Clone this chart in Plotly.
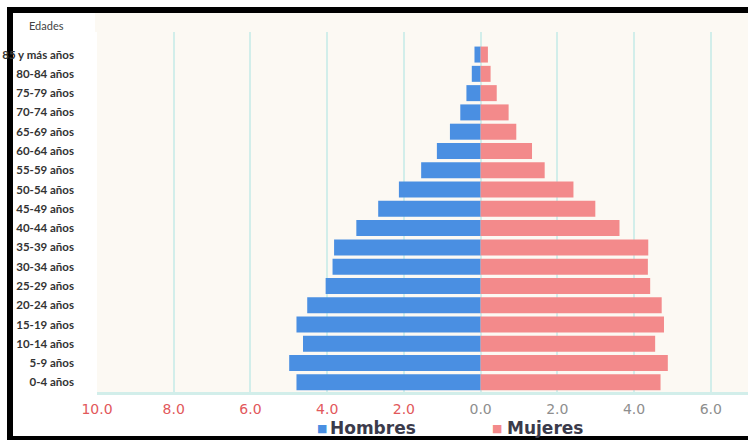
import plotly.graph_objects as go

# Age groups, youngest first (bottom of the pyramid)
edades = [
    "0-4 años", "5-9 años", "10-14 años", "15-19 años", "20-24 años",
    "25-29 años", "30-34 años", "35-39 años", "40-44 años", "45-49 años",
    "50-54 años", "55-59 años", "60-64 años", "65-69 años", "70-74 años",
    "75-79 años", "80-84 años", "85 y más años",
]

# Share of the population (%) per age group
hombres = [4.80, 4.99, 4.63, 4.80, 4.52, 4.04, 3.86, 3.82, 3.24, 2.67,
           2.13, 1.55, 1.14, 0.80, 0.53, 0.37, 0.23, 0.16]
mujeres = [4.69, 4.88, 4.55, 4.78, 4.72, 4.42, 4.36, 4.37, 3.62, 2.99,
           2.42, 1.67, 1.34, 0.93, 0.73, 0.42, 0.26, 0.19]

tick_vals = [-10, -8, -6, -4, -2, 0, 2, 4, 6]

AZUL = "#4a8fe2"
ROSA = "#f38a8b"
CREMA = "#fcf9f3"
REJILLA = "#d2eeea"
ROJO = "#e2585b"
GRIS = "#8e8e8e"

W, H = 748, 440
ML, MR, MT, MB = 97, 0, 32, 48
PW, PH = W - ML - MR, H - MT - MB


def px_x(p):
    return (p - ML) / PW


def px_y(p):
    return (H - MB - p) / PH


tick_text = []
for v in tick_vals:
    color = ROJO if v < 0 else GRIS
    tick_text.append(f"<span style='color:{color}'>{abs(v):.1f}</span>")

fig = go.Figure()
fig.add_trace(go.Bar(
    y=edades, x=[-v for v in hombres], name="Hombres", orientation="h",
    marker=dict(color=AZUL, line=dict(width=0)),
))
fig.add_trace(go.Bar(
    y=edades, x=mujeres, name="Mujeres", orientation="h",
    marker=dict(color=ROSA, line=dict(width=0)),
))

shapes = [
    # cream band continuing above the plotting area
    dict(type="rect", xref="paper", yref="paper", layer="below",
         x0=px_x(95), x1=1, y0=1, y1=px_y(13),
         fillcolor=CREMA, line=dict(width=0)),
    # frame: top, left and bottom edges
    dict(type="rect", xref="paper", yref="paper", layer="below",
         x0=px_x(7), x1=1, y0=px_y(13), y1=px_y(7),
         fillcolor="black", line=dict(width=0)),
    dict(type="rect", xref="paper", yref="paper", layer="below",
         x0=px_x(7), x1=px_x(13), y0=px_y(440), y1=px_y(7),
         fillcolor="black", line=dict(width=0)),
    dict(type="rect", xref="paper", yref="paper", layer="below",
         x0=px_x(7), x1=1, y0=px_y(440), y1=px_y(436),
         fillcolor="black", line=dict(width=0)),
]

annotations = [
    dict(text="Edades", xref="paper", yref="paper", x=px_x(46), y=px_y(25),
         xanchor="center", yanchor="middle", showarrow=False,
         font=dict(family="Lato", size=11, color="#444444")),
]

# legend entries
for (name, color, sq_x, txt_x) in [("Hombres", AZUL, 322, 328),
                                    ("Mujeres", ROSA, 497, 505)]:
    annotations.append(dict(
        text="■", xref="paper", yref="paper", x=px_x(sq_x), y=px_y(428),
        xanchor="center", yanchor="middle", showarrow=False,
        font=dict(family="DejaVu Sans", size=11, color=color)))
    annotations.append(dict(
        text=f"<b>{name}</b>", xref="paper", yref="paper", x=px_x(txt_x),
        y=px_y(428), xanchor="left", yanchor="middle", showarrow=False,
        font=dict(family="DejaVu Sans", size=17, color="#3b3b4b")))

fig.update_layout(
    width=W, height=H,
    margin=dict(l=ML, r=MR, t=MT, b=MB, pad=0),
    paper_bgcolor="white", plot_bgcolor=CREMA,
    barmode="relative", bargap=0.17,
    showlegend=False,
    shapes=shapes, annotations=annotations,
    xaxis=dict(
        range=[-10, 6.97], tickvals=tick_vals, ticktext=tick_text,
        showgrid=True, gridcolor=REJILLA, gridwidth=2, zeroline=False,
        showline=True, linecolor=REJILLA, linewidth=3,
        ticks="", ticklabelstandoff=2,
        tickfont=dict(family="DejaVu Sans", size=14, color=GRIS),
        fixedrange=True,
    ),
    yaxis=dict(
        range=[-0.5, 18.17], showgrid=False, zeroline=False, showline=False,
        ticks="", ticklabelstandoff=22,
        tickfont=dict(family="Lato", size=11.5, color="#333333", weight="bold"),
        fixedrange=True,
    ),
)

fig.write_html("out.html")
